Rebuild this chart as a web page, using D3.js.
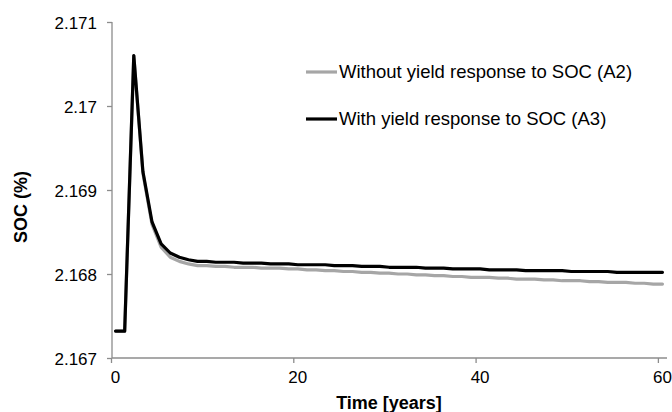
<!DOCTYPE html>
<html>
<head>
<meta charset="utf-8">
<script src="https://cdn.jsdelivr.net/npm/d3@7"></script>
<style>
html,body{margin:0;padding:0;background:#fff;}
svg{display:block;font-family:"Liberation Sans",Arial,sans-serif;}
</style>
</head>
<body>
<svg id="chart" width="672" height="412"></svg>
<script>
const years = [0.5,1.5,2.5,3.5,4.5,5.5,6.5,7.5,8.5,9.5,10.5,11.5,12.5,13.5,14.5,15.5,16.5,17.5,18.5,19.5,
  20.5,21.5,22.5,23.5,24.5,25.5,26.5,27.5,28.5,29.5,30.5,31.5,32.5,33.5,34.5,35.5,36.5,37.5,38.5,39.5,
  40.5,41.5,42.5,43.5,44.5,45.5,46.5,47.5,48.5,49.5,50.5,51.5,52.5,53.5,54.5,55.5,56.5,57.5,58.5,59.5,60.5];
const socA2 = [2.16732,2.16732,2.17060,2.16920,2.16859,2.16832,2.16820,2.16815,2.16812,2.16810,
  2.16810,2.16809,2.16809,2.16808,2.16808,2.16808,2.16807,2.16807,2.16807,2.16806,
  2.16806,2.16805,2.16805,2.16804,2.16804,2.16803,2.16803,2.16802,2.16802,2.16801,
  2.16801,2.16800,2.16800,2.16799,2.16799,2.16798,2.16798,2.16797,2.16797,2.16796,
  2.16796,2.16796,2.16795,2.16795,2.16794,2.16794,2.16794,2.16793,2.16793,2.16792,
  2.16792,2.16792,2.16791,2.16791,2.16790,2.16790,2.16790,2.16789,2.16789,2.16788,2.16788];
const socA3 = [2.16732,2.16732,2.17060,2.16922,2.16862,2.16836,2.16825,2.16820,2.16817,2.16815,
  2.16815,2.16814,2.16814,2.16814,2.16813,2.16813,2.16813,2.16812,2.16812,2.16812,
  2.16811,2.16811,2.16811,2.16811,2.16810,2.16810,2.16810,2.16809,2.16809,2.16809,
  2.16808,2.16808,2.16808,2.16808,2.16807,2.16807,2.16807,2.16806,2.16806,2.16806,
  2.16806,2.16805,2.16805,2.16805,2.16805,2.16804,2.16804,2.16804,2.16804,2.16804,
  2.16803,2.16803,2.16803,2.16803,2.16803,2.16802,2.16802,2.16802,2.16802,2.16802,2.16802];
const seriesNames = ["Without yield response to SOC (A2)","With yield response to SOC (A3)"];
const seriesColors = ["#a6a6a6","#000000"];
const xTicks = [0,20,40,60];
const yTicks = [2.167,2.168,2.169,2.17,2.171];
const yTickLabels = ["2.167","2.168","2.169","2.17","2.171"];
const xTitle = "Time [years]";
const yTitle = "SOC (%)";

const svg = d3.select("#chart");
const x = d3.scaleLinear().domain([0,61]).range([111,667]);
const y = d3.scaleLinear().domain([2.167,2.171]).range([358,22]);
const axisColor = "#8c8c8c";

// y axis
const yAxis = svg.append("g").attr("transform","translate(112,0)")
  .call(d3.axisLeft(y).tickValues(yTicks).tickFormat((d,i)=>yTickLabels[i]).tickSize(5).tickPadding(10));
yAxis.select(".domain").attr("stroke",axisColor).attr("stroke-width",1.3).attr("d","M0,22V358");
yAxis.selectAll(".tick line").attr("stroke",axisColor).attr("stroke-width",1.3);
yAxis.selectAll(".tick text").attr("fill","#000").attr("font-size","17px")
  .attr("font-family","'Liberation Sans',Arial,sans-serif").attr("dy","0.36em");

// x axis
const xAxis = svg.append("g").attr("transform","translate(0,358)")
  .call(d3.axisBottom(x).tickValues(xTicks).tickFormat(d3.format("d")).tickSize(5).tickPadding(8));
xAxis.select(".domain").attr("stroke",axisColor).attr("stroke-width",1.3).attr("d","M112,0H667");
xAxis.selectAll(".tick line").attr("stroke",axisColor).attr("stroke-width",1.3);
xAxis.selectAll(".tick text").attr("fill","#000").attr("font-size","17px").attr("dx","4")
  .attr("font-family","'Liberation Sans',Arial,sans-serif");

// titles
svg.append("text").attr("x",389).attr("y",409).attr("text-anchor","middle")
  .attr("font-size","18px").attr("font-weight","bold").text(xTitle);
svg.append("text").attr("transform","translate(27,207) rotate(-90)").attr("text-anchor","middle")
  .attr("font-size","18px").attr("font-weight","bold").text(yTitle);

// lines
const line = d3.line().x((d,i)=>x(years[i])).y(d=>y(d));
[socA2, socA3].forEach((s,k)=>{
  svg.append("path").datum(s).attr("d",line).attr("fill","none")
    .attr("stroke",seriesColors[k]).attr("stroke-width",3.2)
    .attr("stroke-linejoin","round").attr("stroke-linecap","round");
});

// legend
const legY = [72, 119];
seriesNames.forEach((n,k)=>{
  svg.append("line").attr("x1",306).attr("x2",337).attr("y1",legY[k]).attr("y2",legY[k])
    .attr("stroke",seriesColors[k]).attr("stroke-width",3.2);
  svg.append("text").attr("x",339).attr("y",legY[k]+6).attr("font-size","18.5px").attr("fill","#000").text(n);
});
</script>
</body>
</html>
